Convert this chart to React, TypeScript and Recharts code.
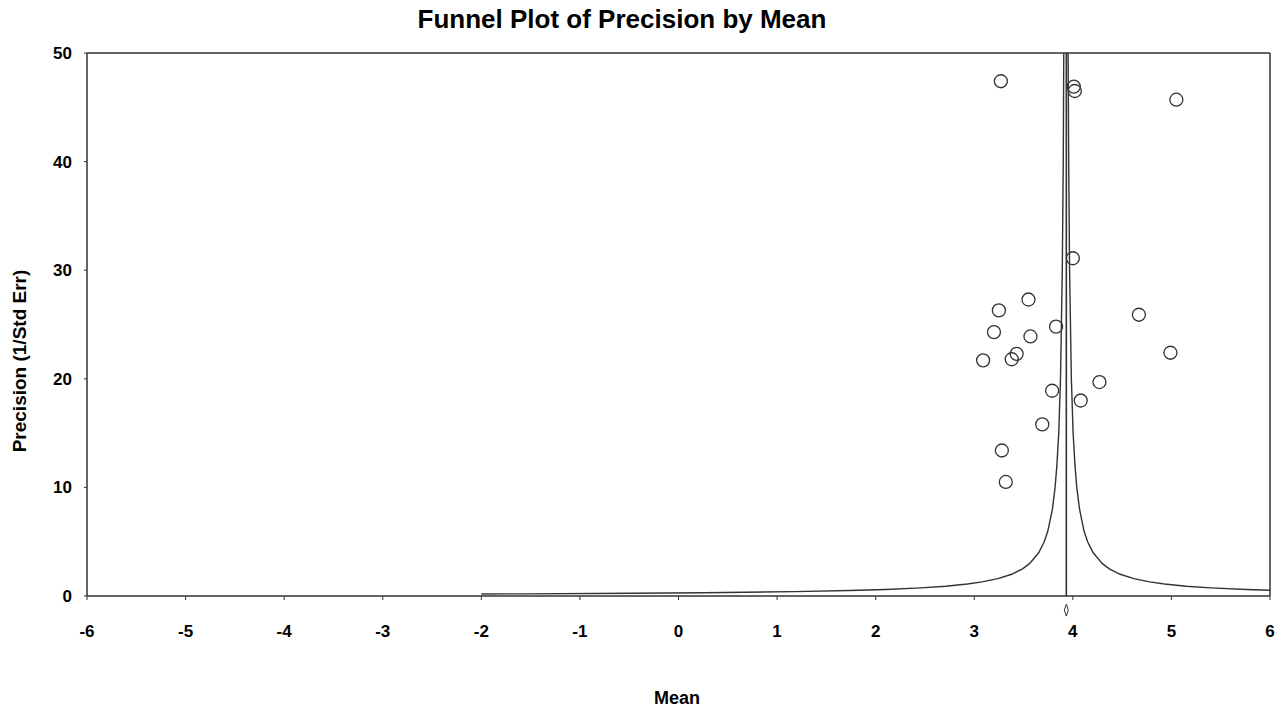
import React from "react";
import {
  ComposedChart,
  Scatter,
  XAxis,
  YAxis,
  ReferenceLine,
  ReferenceDot,
} from "recharts";

// Study points (Mean, Precision = 1/Std Err)
const studyMeans = [3.27, 4.01, 4.02, 5.05, 4.0, 3.55, 3.25, 4.67, 3.83, 3.2, 3.57, 3.43, 3.38, 3.09, 4.99, 4.27, 3.79, 4.08, 3.69, 3.28, 3.32];
const studyPrecisions = [47.4, 46.9, 46.5, 45.7, 31.1, 27.3, 26.3, 25.9, 24.8, 24.3, 23.9, 22.3, 21.8, 21.7, 22.4, 19.7, 18.9, 18.0, 15.8, 13.4, 10.5];

// Combined estimate
const combinedMean = 3.934;

// Funnel boundaries
const funnelLeftPrecisions = [50, 40, 30, 20, 15, 12, 10, 8, 6, 5, 4, 3, 2.5, 2, 1.6, 1.3, 1.1, 0.9, 0.75, 0.6, 0.5, 0.4, 0.3, 0.25, 0.2, 0.185];
const funnelLeftMeans = [3.908, 3.903, 3.893, 3.875, 3.857, 3.838, 3.82, 3.793, 3.747, 3.71, 3.655, 3.563, 3.49, 3.38, 3.24, 3.08, 2.93, 2.71, 2.46, 2.1, 1.73, 1.18, 0.26, -0.47, -1.57, -2.0];
const funnelRightPrecisions = [50, 40, 30, 20, 15, 12, 10, 8, 6, 5, 4, 3, 2.5, 2, 1.6, 1.3, 1.1, 0.9, 0.75, 0.6, 0.53];
const funnelRightMeans = [3.952, 3.958, 3.967, 3.985, 4.003, 4.022, 4.04, 4.068, 4.113, 4.15, 4.205, 4.297, 4.37, 4.48, 4.62, 4.78, 4.93, 5.15, 5.4, 5.76, 6.0];

// Axis ticks
const xTicks = [-6, -5, -4, -3, -2, -1, 0, 1, 2, 3, 4, 5, 6];
const yTicks = [0, 10, 20, 30, 40, 50];

const studies = studyMeans.map((m, i) => ({ m, p: studyPrecisions[i] }));
const funnelLeft = funnelLeftMeans.map((m, i) => ({ m, p: funnelLeftPrecisions[i] }));
const funnelRight = funnelRightMeans.map((m, i) => ({ m, p: funnelRightPrecisions[i] }));

const INK = "#333";
const FONT = "'Liberation Sans', Arial, sans-serif";

const Circle = (props: any) => (
  <circle cx={props.cx} cy={props.cy} r={6.5} fill="none" stroke={INK} strokeWidth={1.3} />
);
const Nothing = () => <g />;

const Diamond = (props: any) => {
  const { cx, cy } = props;
  return (
    <path
      d={`M${cx},${cy - 6} L${cx + 2},${cy} L${cx},${cy + 6} L${cx - 2},${cy} Z`}
      fill="none"
      stroke={INK}
      strokeWidth={1}
    />
  );
};

const tickStyle = { fontFamily: FONT, fontWeight: 700, fontSize: 17, fill: "#000" };

export default function App() {
  return (
    <div style={{ position: "absolute", left: 0, top: 0, width: 1283, height: 711, background: "#fff", fontFamily: FONT }}>
      <div
        style={{
          position: "absolute",
          left: 0,
          width: 1244,
          top: 4,
          textAlign: "center",
          fontWeight: 700,
          fontSize: 26,
          color: "#000",
        }}
      >
        Funnel Plot of Precision by Mean
      </div>
      <div
        style={{
          position: "absolute",
          left: 577,
          width: 200,
          top: 688,
          textAlign: "center",
          fontWeight: 700,
          fontSize: 18,
          color: "#000",
        }}
      >
        Mean
      </div>
      <div
        style={{
          position: "absolute",
          left: 20,
          top: 361,
          transform: "translate(-50%, -50%) rotate(-90deg)",
          whiteSpace: "nowrap",
          fontWeight: 700,
          fontSize: 19,
          color: "#000",
        }}
      >
        Precision (1/Std Err)
      </div>
      <ComposedChart
        width={1283}
        height={711}
        margin={{ top: 53, right: 13, bottom: 55, left: 0 }}
        style={{ position: "absolute", left: 0, top: 0 }}
      >
        <XAxis
          type="number"
          dataKey="m"
          domain={[-6, 6]}
          ticks={xTicks}
          interval={0}
          allowDataOverflow
          height={60}
          stroke={INK}
          tickSize={4}
          tickMargin={25}
          tick={tickStyle}
          tickLine={{ stroke: INK }}
          axisLine={{ stroke: INK, strokeWidth: 1.5 }}
        />
        <YAxis
          type="number"
          dataKey="p"
          domain={[0, 50]}
          ticks={yTicks}
          interval={0}
          allowDataOverflow
          width={87}
          stroke={INK}
          tickSize={3}
          tickMargin={12}
          tick={tickStyle}
          tickLine={{ stroke: INK }}
          axisLine={{ stroke: INK, strokeWidth: 1.5 }}
        />
        <ReferenceLine y={50} stroke={INK} strokeWidth={1.5} />
        <ReferenceLine x={6} stroke={INK} strokeWidth={1.5} />
        <ReferenceLine x={combinedMean} stroke={INK} strokeWidth={1.6} />
        <Scatter
          data={funnelLeft}
          line={{ stroke: INK, strokeWidth: 1.4 }}
          lineType="joint"
          shape={Nothing}
          isAnimationActive={false}
        />
        <Scatter
          data={funnelRight}
          line={{ stroke: INK, strokeWidth: 1.4 }}
          lineType="joint"
          shape={Nothing}
          isAnimationActive={false}
        />
        <Scatter data={studies} shape={Circle} isAnimationActive={false} />
        <ReferenceDot x={combinedMean} y={-1.3} ifOverflow="visible" shape={Diamond} />
      </ComposedChart>
    </div>
  );
}
